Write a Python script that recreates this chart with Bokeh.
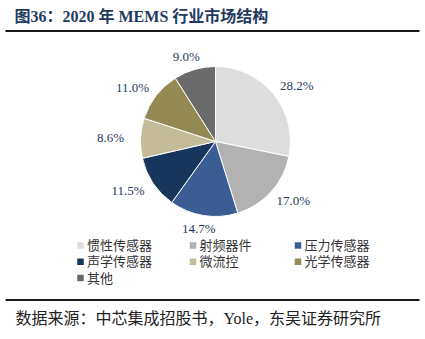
import numpy as np
from bokeh.plotting import figure
from bokeh.models import Range1d
from bokeh.core.properties import value
from bokeh.embed import file_html
from bokeh.resources import INLINE

title = "图36：2020 年 MEMS 行业市场结构"
source_note = "数据来源：中芯集成招股书，Yole，东吴证券研究所"
categories = ["惯性传感器", "射频器件", "压力传感器", "声学传感器", "微流控", "光学传感器", "其他"]
shares = [28.2, 17.0, 14.7, 11.5, 8.6, 11.0, 9.0]
colors = ["#DDDDDD", "#B2B2B2", "#3A5E93", "#17365D", "#C4BC96", "#938953", "#6B6B6B"]

W, H = 425, 339
SERIF = value("'Liberation Serif', 'Times New Roman', 'Noto Sans CJK SC', serif")
CJK = value("'Liberation Serif', 'Noto Sans CJK SC', sans-serif")

p = figure(width=W, height=H, x_range=Range1d(0, W), y_range=Range1d(0, H),
           output_backend="svg", toolbar_location=None,
           x_axis_location=None, y_axis_location=None, min_border=0,
           outline_line_color=None)
p.grid.visible = False
p.background_fill_color = "white"
p.border_fill_color = "white"


def Y(py):
    return H - py


# title and rules
p.text(x=[14], y=[Y(15.5)], text=[title], text_font=CJK, text_font_size="16px",
       text_font_style="bold", text_color="#1F3A60", text_baseline="middle")
p.segment(x0=[5], y0=[Y(30.5)], x1=[419], y1=[Y(30.5)], line_width=2, line_color="#1a1a1a")
p.segment(x0=[5], y0=[Y(299.5)], x1=[419], y1=[Y(299.5)], line_width=2, line_color="#1a1a1a")
p.text(x=[15], y=[Y(318)], text=[source_note], text_font=CJK, text_font_size="16px",
       text_color="#222222", text_baseline="middle")

# pie
cx, cy, r = 215, Y(141), 75
frac = np.array(shares) / sum(shares)
cum = np.concatenate([[0], np.cumsum(frac)])
start = np.pi / 2 - cum[:-1] * 2 * np.pi
end = np.pi / 2 - cum[1:] * 2 * np.pi
p.wedge(x=cx, y=cy, radius=r, start_angle=end, end_angle=start, direction="anticlock",
        fill_color=colors, line_color="white", line_width=1)

mid = (start + end) / 2
lx = cx + 105 * np.cos(mid)
ly = cy + 88 * np.sin(mid)
p.text(x=lx, y=ly, text=[f"{v:.1f}%" for v in shares], text_font=SERIF,
       text_font_size="13px", text_color="#1F3A60", text_align="center",
       text_baseline="middle")

# legend
col_sq = [80, 192.5, 297.5]
sx, sy, tx = [], [], []
for i in range(len(categories)):
    c, rw = i % 3, i // 3
    sx.append(col_sq[c])
    sy.append(Y(245 + rw * 16.3))
    tx.append(col_sq[c] + 6.5)
p.scatter(x=sx, y=sy, marker="square", size=6.5, fill_color=colors, line_color=None)
p.text(x=tx, y=sy, text=categories, text_font=CJK, text_font_size="13px",
       text_color="#333333", text_baseline="middle")

open("out.html", "w").write(file_html(p, INLINE))
